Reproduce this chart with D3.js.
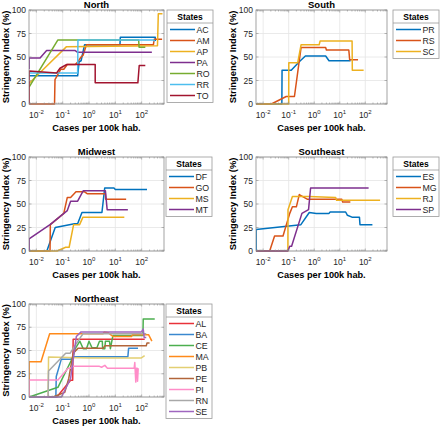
<!DOCTYPE html>
<html><head><meta charset="utf-8">
<script src="https://cdn.jsdelivr.net/npm/d3@7"></script>
<style>body{margin:0;background:#fff}svg{display:block;font-family:"Liberation Sans",Arial,sans-serif}</style>
</head><body><svg id="c" width="440" height="427"></svg>
<script>
// ---------- data ----------
const xTickExps = [-2, -1, 0, 1, 2];
const yTicks = [0, 25, 50, 75, 100];

const northStates = ["AC", "AM", "AP", "PA", "RO", "RR", "TO"];
const southStates = ["PR", "RS", "SC"];
const midwestStates = ["DF", "GO", "MS", "MT"];
const southeastStates = ["ES", "MG", "RJ", "SP"];
const northeastStates = ["AL", "BA", "CE", "MA", "PB", "PE", "PI", "RN", "SE"];

const matlabColors = ["#0072BD", "#D95319", "#EDB120", "#7E2F8E", "#77AC30", "#4DBEEE", "#A2142F"];
const northeastColors = ["#e8323a", "#3a88cf", "#4caf4f", "#ff8a1a", "#e3cf72", "#b2653a", "#ff8dc8", "#a8a8a8", "#9f66bf"];

// [cases per 100k, stringency %]
const AC = [[0.0053,30],[0.37,30],[0.42,45],[0.5,46],[0.68,63],[15,63],[15.5,71],[330,71],[330,67]];
const AM = [[0.0053,0],[0.049,0],[0.051,26],[0.085,37],[0.11,37],[0.15,42],[0.3,42],[0.38,45],[0.5,50],[0.6,52],[0.8,63],[280,63],[300,69],[600,69]];
const AP = [[0.0053,22],[0.14,61],[400,62],[430,96],[620,96]];
const PA = [[0.0053,37],[0.0053,49],[0.0138,49],[0.0245,57],[0.29,57],[0.37,55],[245,55]];
const RO = [[0.0053,18],[0.065,68],[77,68],[80,60.5],[138,60.5]];
const RR = [[0.0053,33],[0.37,33],[0.38,68],[290,68],[310,66.5]];
const TO = [[0.0053,0],[0.0053,35],[0.059,33],[0.079,38],[0.143,42],[1.72,42],[1.72,22.5],[72,22.5],[81,41],[138,41]];

const PR = [[0.0053,0],[0.054,0],[0.055,36],[0.126,36],[0.26,45],[0.45,51],[2.8,51],[3.8,46],[26.5,46]];
const RS = [[0.0053,0],[0.021,0],[0.08,8],[0.168,8],[0.305,60],[2.8,60],[3,57.5],[22.6,57.5],[24.5,47],[52,47]];
const SC = [[0.0053,0],[0.1,0],[0.101,44],[0.226,44],[0.305,63],[1.56,63],[1.7,67],[30.4,67],[31,36],[86,36]];

const DF = [[0.0053,0],[0.025,0],[0.052,25],[0.28,29],[0.37,29],[0.54,41],[3.1,41],[3.95,67],[8.9,67],[10,65.5],[160,65.5]];
const GO = [[0.0053,0],[0.033,0],[0.034,28],[0.11,40],[0.15,57],[0.2,57],[0.32,63],[0.68,63],[0.85,61],[4.2,61],[4.3,55],[25.8,55]];
const MS = [[0.0053,0],[0.061,0],[0.13,4],[0.176,4],[0.26,28],[0.44,28],[0.59,36],[22,36]];
const MT = [[0.0053,0],[0.0053,13],[0.033,28],[0.15,43],[0.2,53],[0.37,53],[0.6,64],[4.2,64],[4.9,44],[30,44]];

const ES = [[0.0053,0],[0.0053,23],[0.3,28],[0.64,41],[1.2,40],[3.8,40],[4.2,41.5],[17,41.5],[20,38],[30,36],[59,36],[62,28],[190,28]];
const MG = [[0.0053,0],[0.018,0],[0.028,16],[0.06,16],[0.11,40],[0.14,47],[0.2,47],[0.26,60],[0.4,57],[0.55,55],[12,55],[13,52],[26,52]];
const RJ = [[0.0053,0],[0.093,0],[0.094,44],[0.14,58],[0.6,58],[6.9,57],[7.5,54],[380,54]];
const SP = [[0.0053,0],[0.093,0],[0.11,5],[0.13,5],[0.33,40],[0.6,44],[0.72,67],[135,67]];

const AL = [[0.0053,0],[0.06,0],[0.2,18],[0.24,18],[0.25,62],[131,62]];
const BA = [[0.0053,0],[0.055,0],[0.057,22],[0.089,40.7],[0.2,40.7],[0.28,43.4],[30,43.4],[32,52.3],[73,52.3]];
const CE = [[0.0053,0],[0.066,10.4],[0.246,43],[0.3,52],[0.45,60],[0.6,52],[0.8,52],[1.0,60],[1.3,53],[2,53],[2.5,60],[3.2,60],[3.3,52],[4,52],[4.2,60],[6,60],[6.5,52],[8.1,66],[112,66],[115,84],[315,84]];
const MA = [[0.0053,0],[0.0053,38],[0.015,38],[0.032,68],[3.4,68],[3.8,70],[5.5,69],[8.1,65],[41,65],[45,67],[183,67],[245,60]];
const PB = [[0.0053,0],[0.028,0],[0.029,43],[1,42],[98,42],[130,44.5]];
const PE = [[0.0053,0],[0.043,0],[0.12,5],[0.17,20],[0.25,47],[0.38,52.3],[3.4,52.3],[4,55],[150,55],[160,58],[200,58]];
const PI = [[0.0053,0],[0.0053,18.3],[0.066,18.3],[0.16,30.8],[0.2,31],[0.25,33],[2.5,33],[3,32],[4,34],[5,31],[40,31],[52,31],[55,37],[60,16],[63,31],[68,31],[70,17],[74,31]];
const RN = [[0.0053,0],[0.028,0],[0.029,28],[0.13,47],[0.19,47],[0.38,60],[0.59,68],[150,68]];
const SE = [[0.0053,0],[0.09,0],[0.2,20],[0.33,65],[0.5,70],[98,70],[115,73],[125,64],[150,64]];

const seriesByState = {AC,AM,AP,PA,RO,RR,TO,PR,RS,SC,DF,GO,MS,MT,ES,MG,RJ,SP,AL,BA,CE,MA,PB,PE,PI,RN,SE};

const panels = [
  {title:"North", states:northStates, colors:matlabColors, x0:29, x1:164, y0:10, y1:104, lx:167},
  {title:"South", states:southStates, colors:matlabColors, x0:256, x1:387, y0:10, y1:104, lx:393},
  {title:"Midwest", states:midwestStates, colors:matlabColors, x0:29, x1:164, y0:157, y1:251, lx:166},
  {title:"Southeast", states:southeastStates, colors:matlabColors, x0:256, x1:387, y0:157, y1:251, lx:393},
  {title:"Northeast", states:northeastStates, colors:northeastColors, x0:29, x1:164, y0:304, y1:397, lx:166}
];

const svg = d3.select("#c");
const xDomain = [Math.pow(10,-2.28), Math.pow(10,2.85)];

panels.forEach((p, pi) => {
  const x = d3.scaleLog().domain(xDomain).range([p.x0, p.x1]);
  const y = d3.scaleLinear().domain([0,100]).range([p.y1, p.y0]);
  const g = svg.append("g");
  const W = p.x1 - p.x0, H = p.y1 - p.y0;

  // grid
  xTickExps.forEach(e => {
    g.append("line").attr("x1", x(Math.pow(10,e))).attr("x2", x(Math.pow(10,e)))
      .attr("y1", p.y0).attr("y2", p.y1).attr("stroke", "#e4e4e4").attr("stroke-width", 0.8);
  });
  yTicks.forEach(t => {
    g.append("line").attr("x1", p.x0).attr("x2", p.x1).attr("y1", y(t)).attr("y2", y(t))
      .attr("stroke", "#e4e4e4").attr("stroke-width", 0.8);
  });

  // lines
  const clipId = "clip" + pi;
  svg.append("clipPath").attr("id", clipId).append("rect")
    .attr("x", p.x0).attr("y", p.y0 - 1).attr("width", W).attr("height", H + 2);
  const line = d3.line().x(d => x(d[0])).y(d => y(d[1]));
  const lg = g.append("g").attr("clip-path", `url(#${clipId})`);
  p.states.forEach((s, i) => {
    lg.append("path").attr("d", line(seriesByState[s])).attr("fill", "none")
      .attr("stroke", p.colors[i]).attr("stroke-width", 1.5).attr("stroke-linejoin", "round");
  });

  // box
  g.append("rect").attr("x", p.x0).attr("y", p.y0).attr("width", W).attr("height", H)
    .attr("fill", "none").attr("stroke", "#8c8c8c").attr("stroke-width", 0.8);

  // ticks
  const minor = [];
  for (let e = -3; e <= 3; e++) for (let k = 1; k <= 9; k++) {
    const v = k * Math.pow(10, e);
    if (v > xDomain[0] && v < xDomain[1]) minor.push({v, major: k === 1});
  }
  minor.forEach(m => {
    const len = m.major ? 2.5 : 1.5;
    g.append("line").attr("x1", x(m.v)).attr("x2", x(m.v)).attr("y1", p.y1).attr("y2", p.y1 - len).attr("stroke", "#8c8c8c").attr("stroke-width", 0.6);
    g.append("line").attr("x1", x(m.v)).attr("x2", x(m.v)).attr("y1", p.y0).attr("y2", p.y0 + len).attr("stroke", "#8c8c8c").attr("stroke-width", 0.6);
  });
  yTicks.forEach(t => {
    g.append("line").attr("x1", p.x0).attr("x2", p.x0 + 2.5).attr("y1", y(t)).attr("y2", y(t)).attr("stroke", "#8c8c8c").attr("stroke-width", 0.6);
    g.append("line").attr("x1", p.x1).attr("x2", p.x1 - 2.5).attr("y1", y(t)).attr("y2", y(t)).attr("stroke", "#8c8c8c").attr("stroke-width", 0.6);
    g.append("text").attr("x", p.x0 - 3).attr("y", y(t) + 3).attr("text-anchor", "end")
      .attr("font-size", 8.5).attr("fill", "#262626").text(t);
  });
  xTickExps.forEach(e => {
    const t = g.append("text").attr("x", x(Math.pow(10,e))).attr("y", p.y1 + 14)
      .attr("text-anchor", "middle").attr("font-size", 8.5).attr("fill", "#262626");
    t.append("tspan").text("10");
    t.append("tspan").attr("dy", -4).attr("font-size", 6).text(e);
  });

  // labels
  g.append("text").attr("x", (p.x0 + p.x1) / 2).attr("y", p.y0 - 2).attr("text-anchor", "middle")
    .attr("font-size", 9.5).attr("font-weight", "bold").text(p.title);
  g.append("text").attr("x", (p.x0 + p.x1) / 2).attr("y", p.y1 + 27).attr("text-anchor", "middle")
    .attr("font-size", 9.2).attr("font-weight", "bold").text("Cases per 100k hab.");
  g.append("text").attr("transform", `translate(${p.x0 - 20},${(p.y0 + p.y1) / 2}) rotate(-90)`)
    .attr("text-anchor", "middle").attr("font-size", 9.4).attr("font-weight", "bold").text("Stringency Index (%)");

  // legend
  const lw = 46, n = p.states.length, sp = 11;
  const lh = 19.5 + (n - 1) * sp + 7;
  const L = g.append("g");
  L.append("rect").attr("x", p.lx).attr("y", p.y0).attr("width", lw).attr("height", lh)
    .attr("fill", "#fff").attr("stroke", "#9a9a9a").attr("stroke-width", 0.8);
  L.append("line").attr("x1", p.lx).attr("x2", p.lx + lw).attr("y1", p.y0 + 13).attr("y2", p.y0 + 13)
    .attr("stroke", "#9a9a9a").attr("stroke-width", 0.8);
  L.append("text").attr("x", p.lx + lw / 2).attr("y", p.y0 + 10).attr("text-anchor", "middle")
    .attr("font-size", 8.5).attr("font-weight", "bold").text("States");
  p.states.forEach((s, i) => {
    const yy = p.y0 + 19.5 + i * sp;
    L.append("line").attr("x1", p.lx + 3).attr("x2", p.lx + 28).attr("y1", yy).attr("y2", yy)
      .attr("stroke", p.colors[i]).attr("stroke-width", 1.5);
    L.append("text").attr("x", p.lx + 29.5).attr("y", yy + 3.2).attr("font-size", 8.8).attr("fill", "#262626").text(s);
  });
});
</script></body></html>
